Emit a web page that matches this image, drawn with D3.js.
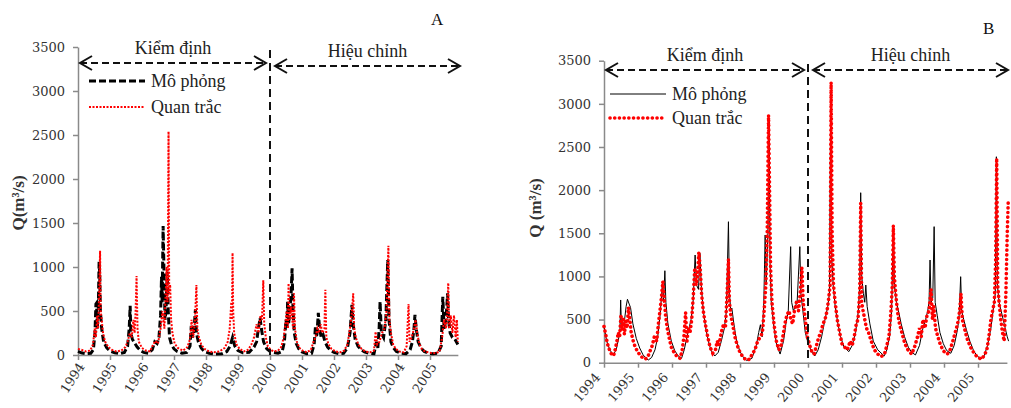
<!DOCTYPE html>
<html>
<head>
<meta charset="utf-8">
<script src="https://cdn.jsdelivr.net/npm/d3@7"></script>
<style>
body { margin: 0; background: #fff; }
svg { display: block; }
</style>
</head>
<body>
<svg id="chart" width="1011" height="408"></svg>
<script>
// tick labels
var yearTicks = [1994, 1995, 1996, 1997, 1998, 1999, 2000, 2001, 2002, 2003, 2004, 2005];
var qTicks = [0, 500, 1000, 1500, 2000, 2500, 3000, 3500];
var seriesNames = ["Mô phỏng", "Quan trắc"];
var periodNames = ["Kiểm định", "Hiệu chỉnh"];
var splitYear = 2000;

// panel A, simulated [year, Q]
var simA = [[1994.00,40],[1994.10,25],[1994.25,15],[1994.40,20],[1994.48,60],[1994.53,250],[1994.56,580],[1994.58,590],[1994.60,300],[1994.63,450],[1994.66,1060],[1994.68,900],[1994.70,500],[1994.74,300],[1994.80,150],[1994.90,80],[1995.00,45],[1995.15,25],[1995.30,15],[1995.45,30],[1995.55,100],[1995.60,300],[1995.63,560],[1995.65,250],[1995.70,180],[1995.78,130],[1995.85,90],[1995.95,50],[1996.05,30],[1996.20,20],[1996.32,60],[1996.40,150],[1996.47,130],[1996.53,200],[1996.58,450],[1996.61,890],[1996.63,600],[1996.66,1465],[1996.69,900],[1996.72,400],[1996.75,500],[1996.79,946],[1996.82,500],[1996.86,200],[1996.92,120],[1997.00,70],[1997.10,40],[1997.25,20],[1997.40,30],[1997.50,100],[1997.54,330],[1997.58,200],[1997.62,250],[1997.67,520],[1997.70,250],[1997.76,150],[1997.85,80],[1997.95,40],[1998.10,20],[1998.30,10],[1998.50,15],[1998.65,40],[1998.75,100],[1998.83,200],[1998.90,100],[1999.00,50],[1999.15,25],[1999.35,30],[1999.50,90],[1999.58,150],[1999.63,280],[1999.69,420],[1999.73,300],[1999.80,150],[1999.90,70],[2000.00,40],[2000.10,30],[2000.25,20],[2000.38,40],[2000.45,150],[2000.50,400],[2000.53,300],[2000.55,606],[2000.58,350],[2000.62,500],[2000.66,700],[2000.69,985],[2000.72,500],[2000.76,250],[2000.82,130],[2000.90,70],[2001.00,35],[2001.15,15],[2001.30,20],[2001.38,120],[2001.42,320],[2001.46,200],[2001.51,480],[2001.55,300],[2001.60,200],[2001.66,230],[2001.72,150],[2001.80,90],[2001.90,50],[2002.00,30],[2002.15,15],[2002.30,20],[2002.42,80],[2002.50,250],[2002.56,570],[2002.60,350],[2002.66,180],[2002.75,100],[2002.85,60],[2002.95,35],[2003.10,20],[2003.25,15],[2003.33,150],[2003.37,80],[2003.41,300],[2003.44,605],[2003.48,250],[2003.55,200],[2003.62,400],[2003.68,1080],[2003.72,400],[2003.78,150],[2003.86,80],[2003.95,40],[2004.10,20],[2004.25,15],[2004.38,60],[2004.45,150],[2004.50,300],[2004.53,455],[2004.57,300],[2004.63,150],[2004.72,80],[2004.82,40],[2004.95,20],[2005.10,15],[2005.25,20],[2005.35,100],[2005.38,450],[2005.40,660],[2005.44,300],[2005.50,400],[2005.55,700],[2005.58,400],[2005.63,250],[2005.70,200],[2005.78,180],[2005.87,120]];

// panel A, observed
var obsA = [[1994.00,70],[1994.10,60],[1994.25,40],[1994.38,50],[1994.47,120],[1994.52,300],[1994.56,200],[1994.60,450],[1994.63,300],[1994.66,700],[1994.69,1185],[1994.71,500],[1994.74,400],[1994.78,250],[1994.85,150],[1994.95,90],[1995.05,60],[1995.20,40],[1995.35,50],[1995.48,90],[1995.55,150],[1995.62,250],[1995.68,200],[1995.73,400],[1995.77,250],[1995.80,500],[1995.83,897],[1995.86,300],[1995.90,150],[1996.00,80],[1996.12,50],[1996.25,40],[1996.35,120],[1996.42,160],[1996.50,130],[1996.58,300],[1996.64,500],[1996.70,300],[1996.74,700],[1996.77,1000],[1996.80,600],[1996.83,2540],[1996.85,700],[1996.88,800],[1996.91,400],[1996.95,250],[1997.02,130],[1997.12,80],[1997.28,50],[1997.42,90],[1997.50,180],[1997.55,400],[1997.60,200],[1997.65,350],[1997.70,795],[1997.73,300],[1997.78,200],[1997.85,120],[1997.95,70],[1998.10,40],[1998.25,30],[1998.42,40],[1998.58,80],[1998.68,150],[1998.74,300],[1998.79,600],[1998.81,400],[1998.83,1160],[1998.85,500],[1998.88,250],[1998.95,120],[1999.05,70],[1999.18,40],[1999.32,60],[1999.42,120],[1999.50,200],[1999.58,350],[1999.64,250],[1999.70,450],[1999.75,400],[1999.79,850],[1999.82,350],[1999.87,200],[1999.93,100],[2000.02,60],[2000.12,40],[2000.25,50],[2000.35,90],[2000.43,200],[2000.48,350],[2000.52,500],[2000.56,300],[2000.58,814],[2000.61,400],[2000.66,550],[2000.72,300],[2000.75,700],[2000.78,300],[2000.84,150],[2000.92,80],[2001.02,50],[2001.15,30],[2001.28,60],[2001.36,150],[2001.42,200],[2001.48,300],[2001.53,250],[2001.58,350],[2001.64,250],[2001.70,300],[2001.73,740],[2001.76,200],[2001.83,120],[2001.92,70],[2002.05,40],[2002.18,30],[2002.32,50],[2002.42,120],[2002.50,300],[2002.55,450],[2002.60,700],[2002.63,300],[2002.68,200],[2002.76,120],[2002.86,70],[2002.98,40],[2003.12,30],[2003.25,50],[2003.30,265],[2003.35,120],[2003.42,150],[2003.50,250],[2003.58,300],[2003.64,500],[2003.70,1240],[2003.73,400],[2003.78,250],[2003.85,120],[2003.93,70],[2004.05,40],[2004.18,30],[2004.27,100],[2004.33,580],[2004.36,150],[2004.43,200],[2004.50,300],[2004.55,400],[2004.60,250],[2004.67,120],[2004.76,60],[2004.88,35],[2005.02,25],[2005.18,20],[2005.30,40],[2005.38,200],[2005.44,400],[2005.50,300],[2005.54,500],[2005.57,818],[2005.60,300],[2005.65,450],[2005.70,250],[2005.75,450],[2005.80,200],[2005.84,400],[2005.87,150]];

// panel B, simulated
var simB = [[1994.00,417],[1994.08,250],[1994.17,150],[1994.27,90],[1994.36,150],[1994.44,300],[1994.47,400],[1994.49,727],[1994.51,450],[1994.55,420],[1994.60,480],[1994.65,650],[1994.69,735],[1994.74,680],[1994.78,640],[1994.85,450],[1994.95,280],[1995.05,170],[1995.15,90],[1995.30,30],[1995.40,60],[1995.50,150],[1995.58,300],[1995.65,550],[1995.72,920],[1995.75,700],[1995.79,1066],[1995.82,700],[1995.88,450],[1995.98,250],[1996.08,140],[1996.18,80],[1996.28,50],[1996.36,150],[1996.44,300],[1996.50,400],[1996.56,500],[1996.62,700],[1996.68,1248],[1996.72,900],[1996.78,850],[1996.82,1268],[1996.86,900],[1996.92,600],[1997.00,380],[1997.08,230],[1997.16,130],[1997.26,78],[1997.36,120],[1997.45,250],[1997.54,400],[1997.60,600],[1997.66,1634],[1997.69,800],[1997.73,600],[1997.76,633],[1997.82,450],[1997.90,250],[1998.00,130],[1998.10,60],[1998.20,25],[1998.35,50],[1998.48,200],[1998.55,350],[1998.60,440],[1998.65,300],[1998.70,700],[1998.74,1480],[1998.77,900],[1998.82,1500],[1998.86,2800],[1998.88,1200],[1998.92,700],[1999.00,400],[1999.08,200],[1999.18,100],[1999.28,250],[1999.35,450],[1999.42,600],[1999.49,1345],[1999.52,700],[1999.57,600],[1999.62,650],[1999.68,700],[1999.76,1345],[1999.79,800],[1999.85,600],[1999.92,350],[2000.00,230],[2000.10,130],[2000.20,78],[2000.30,150],[2000.40,300],[2000.50,500],[2000.58,650],[2000.63,800],[2000.67,3160],[2000.70,1200],[2000.74,900],[2000.80,650],[2000.88,450],[2000.96,300],[2001.06,180],[2001.20,128],[2001.30,200],[2001.40,350],[2001.48,600],[2001.52,900],[2001.55,1970],[2001.58,1000],[2001.63,800],[2001.67,700],[2001.70,900],[2001.74,650],[2001.82,450],[2001.92,250],[2002.05,150],[2002.24,78],[2002.32,150],[2002.40,300],[2002.46,600],[2002.51,1577],[2002.54,900],[2002.60,700],[2002.66,600],[2002.74,450],[2002.84,300],[2002.95,180],[2003.05,120],[2003.16,90],[2003.28,200],[2003.38,400],[2003.46,500],[2003.52,600],[2003.56,700],[2003.59,1190],[2003.62,700],[2003.67,750],[2003.71,1577],[2003.74,700],[2003.80,550],[2003.88,350],[2003.98,220],[2004.08,140],[2004.20,109],[2004.30,200],[2004.38,350],[2004.44,500],[2004.49,997],[2004.52,600],[2004.58,500],[2004.66,380],[2004.76,250],[2004.88,130],[2005.00,70],[2005.08,40],[2005.18,80],[2005.28,200],[2005.38,400],[2005.46,650],[2005.51,800],[2005.54,2387],[2005.57,900],[2005.62,700],[2005.68,600],[2005.74,500],[2005.80,400],[2005.86,300],[2005.90,250]];

// panel B, observed
var obsB = [[1994.00,420],[1994.05,330],[1994.10,220],[1994.17,140],[1994.22,100],[1994.28,80],[1994.33,150],[1994.38,250],[1994.42,350],[1994.46,300],[1994.50,560],[1994.53,380],[1994.57,500],[1994.60,330],[1994.64,480],[1994.68,400],[1994.72,640],[1994.76,500],[1994.80,350],[1994.86,250],[1994.92,180],[1995.00,120],[1995.10,70],[1995.20,40],[1995.28,60],[1995.35,130],[1995.42,200],[1995.48,300],[1995.55,250],[1995.60,450],[1995.66,650],[1995.70,800],[1995.73,940],[1995.77,750],[1995.81,550],[1995.86,400],[1995.92,280],[1995.98,180],[1996.06,120],[1996.15,70],[1996.24,50],[1996.30,150],[1996.35,300],[1996.40,580],[1996.44,250],[1996.48,400],[1996.53,350],[1996.58,500],[1996.63,800],[1996.67,1100],[1996.71,900],[1996.75,1000],[1996.79,1280],[1996.83,1100],[1996.87,800],[1996.92,600],[1996.98,450],[1997.05,300],[1997.12,180],[1997.20,110],[1997.28,150],[1997.33,250],[1997.38,200],[1997.45,350],[1997.52,450],[1997.57,400],[1997.62,800],[1997.66,1200],[1997.69,700],[1997.73,550],[1997.78,450],[1997.85,300],[1997.92,200],[1998.00,120],[1998.08,70],[1998.18,30],[1998.28,40],[1998.36,100],[1998.44,150],[1998.52,250],[1998.60,300],[1998.66,350],[1998.71,600],[1998.76,900],[1998.80,1500],[1998.84,2870],[1998.87,2000],[1998.90,1100],[1998.94,700],[1999.00,450],[1999.07,250],[1999.14,150],[1999.20,180],[1999.26,300],[1999.32,450],[1999.38,550],[1999.44,600],[1999.50,500],[1999.55,450],[1999.60,600],[1999.66,700],[1999.72,600],[1999.77,800],[1999.82,1100],[1999.86,700],[1999.92,500],[1999.98,300],[2000.05,200],[2000.12,120],[2000.18,100],[2000.25,200],[2000.32,300],[2000.38,350],[2000.44,450],[2000.50,500],[2000.56,600],[2000.61,750],[2000.65,900],[2000.68,3250],[2000.71,1500],[2000.75,900],[2000.80,700],[2000.86,500],[2000.93,350],[2001.00,220],[2001.08,180],[2001.16,150],[2001.24,250],[2001.30,200],[2001.36,300],[2001.42,450],[2001.47,500],[2001.52,800],[2001.55,1850],[2001.58,700],[2001.62,600],[2001.67,500],[2001.72,400],[2001.78,350],[2001.86,250],[2001.95,150],[2002.05,100],[2002.15,70],[2002.25,100],[2002.32,200],[2002.38,300],[2002.44,600],[2002.48,900],[2002.51,1590],[2002.54,1000],[2002.58,800],[2002.63,600],[2002.69,450],[2002.76,350],[2002.85,220],[2002.95,140],[2003.05,100],[2003.15,200],[2003.22,300],[2003.28,400],[2003.33,300],[2003.38,500],[2003.44,400],[2003.50,550],[2003.56,600],[2003.62,850],[2003.66,500],[2003.70,650],[2003.75,400],[2003.82,300],[2003.90,200],[2004.00,130],[2004.10,100],[2004.18,150],[2004.26,250],[2004.33,350],[2004.40,450],[2004.46,600],[2004.50,800],[2004.54,500],[2004.60,400],[2004.68,280],[2004.78,180],[2004.90,100],[2005.00,60],[2005.10,40],[2005.18,80],[2005.26,150],[2005.32,300],[2005.38,500],[2005.43,600],[2005.48,700],[2005.52,1200],[2005.55,2370],[2005.58,900],[2005.62,700],[2005.67,500],[2005.72,350],[2005.77,250],[2005.82,800],[2005.86,1500],[2005.89,1880]];

var svg = d3.select("#chart");
var serif = "'Liberation Serif', 'DejaVu Serif', serif";
var tickFont = "'DejaVu Serif', serif";

function chevron(g, x, y, dir)
{
    // open arrow head, dir -1 points left, 1 points right
    g.append("path")
        .attr("d", "M" + (x - dir * 12) + "," + (y - 7) + " L" + x + "," + y + " L" + (x - dir * 12) + "," + (y + 7))
        .attr("fill", "none")
        .attr("stroke", "#111")
        .attr("stroke-width", 2);
}

function drawPanel(p)
{
    var g = svg.append("g");

    var xScale = d3.scaleLinear()
        .domain([1994, p.xEnd])
        .range([p.left, p.left + (p.xEnd - 1994) * p.perYear]);

    var yScale = d3.scaleLinear()
        .domain([0, 3500])
        .range([p.bottom, p.top]);

    //y-axis
    var y_axis = d3.axisLeft(yScale).tickValues(qTicks).tickFormat(d3.format("d"))
        .tickSize(5).tickSizeOuter(0).tickPadding(8);
    var ya = g.append("g")
        .attr("transform", "translate(" + p.left + ",0)")
        .call(y_axis);
    ya.selectAll("path, line").attr("stroke", "#8a8a8a").attr("stroke-width", 1.5);
    ya.selectAll("text")
        .attr("font-family", tickFont)
        .attr("font-size", 13)
        .attr("fill", "#333");

    //x-axis
    var x_axis = d3.axisBottom(xScale).tickValues(yearTicks).tickFormat(d3.format("d")).tickSize(5).tickSizeOuter(0);
    var xa = g.append("g")
        .attr("transform", "translate(0," + p.bottom + ")")
        .call(x_axis);
    xa.selectAll("path, line").attr("stroke", "#8a8a8a").attr("stroke-width", 1.5);
    xa.selectAll("text")
        .attr("font-family", tickFont)
        .attr("font-size", 13)
        .attr("fill", "#333")
        .style("text-anchor", "end")
        .attr("dy", "0.35em")
        .attr("transform", "translate(" + p.labDx + "," + p.labDy + ") rotate(" + p.rot + ")")
        .attr("x", 0)
        .attr("y", 0);

    //y-axis label
    g.append("text")
        .attr("transform", "translate(" + p.ylabX + "," + p.ylabY + ") rotate(-90)")
        .attr("text-anchor", "middle")
        .attr("font-family", serif)
        .attr("font-weight", "bold")
        .attr("font-size", 17)
        .attr("fill", "#333")
        .text(p.ylab);

    var line = d3.line()
        .x(function (d) { return xScale(d[0]); })
        .y(function (d) { return yScale(d[1]); });

    //simulated
    g.append("path")
        .datum(p.sim)
        .attr("d", line)
        .attr("fill", "none")
        .attr("stroke", "#000")
        .attr("stroke-width", p.simWidth)
        .attr("stroke-dasharray", p.simDash);

    //observed
    g.append("path")
        .datum(p.obs)
        .attr("d", line)
        .attr("fill", "none")
        .attr("stroke", "#ff0000")
        .attr("stroke-width", p.obsWidth)
        .attr("stroke-linecap", p.obsCap)
        .attr("stroke-dasharray", p.obsDash);

    //split line
    var xs = xScale(splitYear);
    g.append("line")
        .attr("x1", xs).attr("x2", xs)
        .attr("y1", p.splitTop).attr("y2", p.bottom)
        .attr("stroke", "#111")
        .attr("stroke-width", 2)
        .attr("stroke-dasharray", "8,5");

    //period arrows
    var a1 = p.left + 2, a2 = xs - 4, a3 = xs + 5, a4 = p.arrowEnd;
    g.append("line").attr("x1", a1).attr("x2", a2).attr("y1", p.arrowY1).attr("y2", p.arrowY1)
        .attr("stroke", "#111").attr("stroke-width", 2).attr("stroke-dasharray", "7,4");
    g.append("line").attr("x1", a3).attr("x2", a4).attr("y1", p.arrowY2).attr("y2", p.arrowY2)
        .attr("stroke", "#111").attr("stroke-width", 2).attr("stroke-dasharray", "7,4");
    chevron(g, a1, p.arrowY1, -1);
    chevron(g, a2, p.arrowY1, 1);
    chevron(g, a3, p.arrowY2, -1);
    chevron(g, a4, p.arrowY2, 1);

    g.append("text")
        .attr("x", (a1 + a2) / 2).attr("y", p.arrowY1 - 9)
        .attr("text-anchor", "middle")
        .attr("font-family", serif).attr("font-size", 18).attr("fill", "#222")
        .text(periodNames[0]);
    g.append("text")
        .attr("x", (a3 + a4) / 2).attr("y", p.arrowY2 - 9)
        .attr("text-anchor", "middle")
        .attr("font-family", serif).attr("font-size", 18).attr("fill", "#222")
        .text(periodNames[1]);

    //legend
    g.append("line")
        .attr("x1", p.legX).attr("x2", p.legX + p.legLen)
        .attr("y1", p.legY).attr("y2", p.legY)
        .attr("stroke", "#000").attr("stroke-width", p.simWidth)
        .attr("stroke-dasharray", p.simDash);
    g.append("line")
        .attr("x1", p.legX).attr("x2", p.legX + p.legLen)
        .attr("y1", p.legY + p.legGap).attr("y2", p.legY + p.legGap)
        .attr("stroke", "#ff0000").attr("stroke-width", p.obsWidth)
        .attr("stroke-linecap", p.obsCap)
        .attr("stroke-dasharray", p.obsDash);
    g.selectAll(".leg")
        .data(seriesNames)
        .enter()
        .append("text")
        .attr("x", p.legX + p.legLen + 6)
        .attr("y", function (d, i) { return p.legY + i * p.legGap + 6; })
        .attr("font-family", serif).attr("font-size", 18).attr("fill", "#222")
        .text(function (d) { return d; });

    //panel letter
    g.append("text")
        .attr("x", p.letterX).attr("y", p.letterY)
        .attr("font-family", serif).attr("font-size", 17).attr("fill", "#111")
        .text(p.letter);
}

drawPanel({
    sim: simA, obs: obsA, letter: "A", letterX: 431, letterY: 25,
    left: 78, top: 47, bottom: 355, perYear: 32, xEnd: 2005.87, rot: -57, labDx: 3, labDy: 9,
    ylab: "Q(m³/s)", ylabX: 24, ylabY: 203,
    simWidth: 3, simDash: "7,3", obsWidth: 2, obsCap: "butt", obsDash: "2,1.5",
    splitTop: 50, arrowY1: 63, arrowY2: 66, arrowEnd: 460,
    legX: 89, legY: 81, legLen: 56, legGap: 26
});

drawPanel({
    sim: simB, obs: obsB, letter: "B", letterX: 983, letterY: 34,
    left: 604, top: 60.7, bottom: 362.7, perYear: 34, xEnd: 2005.85, rot: -50, labDx: -7, labDy: 12,
    ylab: "Q (m³/s)", ylabX: 541, ylabY: 208,
    simWidth: 1, simDash: null, obsWidth: 3.6, obsCap: "round", obsDash: "0.1,4.6",
    splitTop: 64, arrowY1: 70, arrowY2: 70, arrowEnd: 1008,
    legX: 610, legY: 94, legLen: 56, legGap: 24
});
</script>
</body>
</html>
